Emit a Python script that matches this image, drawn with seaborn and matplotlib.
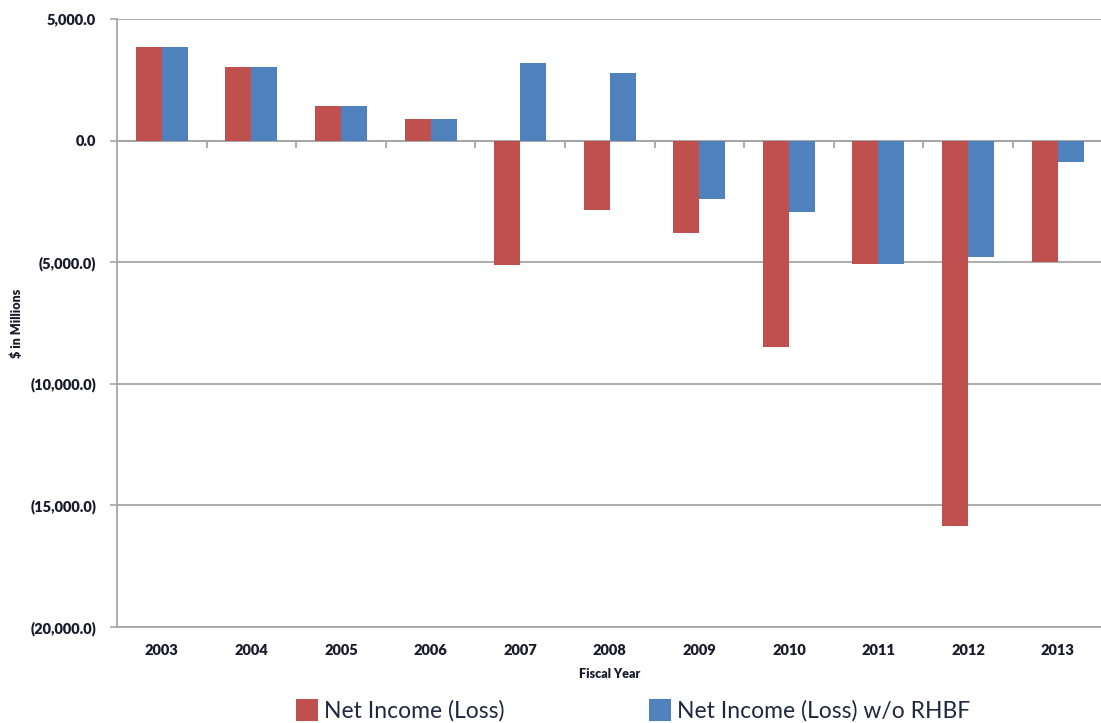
import matplotlib
matplotlib.use("Agg")
import matplotlib.pyplot as plt
import matplotlib.ticker as mticker
from matplotlib.patches import Patch
import seaborn as sns
import pandas as pd

years = ["2003", "2004", "2005", "2006", "2007", "2008", "2009", "2010", "2011", "2012", "2013"]
net_income = [3860, 3040, 1430, 900, -5100, -2840, -3800, -8500, -5070, -15860, -5000]
net_income_wo_rhbf = [3860, 3040, 1430, 900, 3200, 2780, -2420, -2950, -5070, -4770, -890]
series_names = ["Net Income (Loss)", "Net Income (Loss) w/o RHBF"]
colors = ["#C0504D", "#4F81BD"]

df = pd.DataFrame({
    "year": years * 2,
    "value": net_income + net_income_wo_rhbf,
    "series": [series_names[0]] * len(years) + [series_names[1]] * len(years),
})

sns.set_theme(style="white")
plt.rcParams["font.family"] = ["Lato", "DejaVu Sans"]

fig = plt.figure(figsize=(11.01, 7.23), dpi=100)
pos = [0.1063, 0.1328, 0.895, 0.8409]
ax = fig.add_axes(pos)

sns.barplot(data=df, x="year", y="value", hue="series", palette=colors,
            width=0.58, saturation=1, ax=ax, legend=False, edgecolor="none")

ymin, ymax = -20000, 5000
ax.set_ylim(ymin, ymax)
ax.set_xlim(-0.5, len(years) - 0.5)
ax.set_yticks(range(ymin, ymax + 1, 5000))

def fmt(v, pos):
    if v < 0:
        return "({:,.1f})".format(-v)
    return "{:,.1f}".format(v)

ax.yaxis.set_major_formatter(mticker.FuncFormatter(fmt))
ax.grid(axis="y", color="#A6A6A6", linewidth=1.3)
ax.set_axisbelow(True)
ax.axhline(0, color="#A6A6A6", linewidth=1.3, zorder=0.5)

for s in ["top", "right"]:
    ax.spines[s].set_visible(False)
ax.spines["left"].set_color("#A6A6A6")
ax.spines["left"].set_linewidth(1.3)
ax.spines["bottom"].set_color("#A6A6A6")
ax.spines["bottom"].set_linewidth(1.3)

ax.tick_params(axis="y", which="major", left=True, direction="out", length=5, width=1.2,
               color="#A6A6A6", labelsize=10.5, labelcolor="#1a1a2a", pad=10)
ax.tick_params(axis="x", which="major", length=0, labelsize=10.5,
               labelcolor="#1a1a2a", pad=12)
for lbl in ax.get_yticklabels() + ax.get_xticklabels():
    lbl.set_fontweight("heavy")

# small tick marks on the zero line at category boundaries (separate overlay axes)
zero_frac = (0 - ymin) / (ymax - ymin)
tax = fig.add_axes([pos[0], pos[1] + zero_frac * pos[3], pos[2], 0.0001])
tax.set_xlim(ax.get_xlim())
tax.set_xticks([i + 0.5 for i in range(len(years) - 1)])
tax.set_xticklabels([])
tax.set_yticks([])
tax.patch.set_visible(False)
for s in tax.spines.values():
    s.set_visible(False)
tax.tick_params(axis="x", which="major", bottom=True, top=False, direction="out",
                length=5, width=1.3, color="#A6A6A6", labelbottom=False)

ax.set_xlabel("Fiscal Year", fontsize=9, fontweight="heavy", color="#1a1a2a", labelpad=8)
ax.set_ylabel("$ in Millions", fontsize=9, fontweight="heavy", color="#1a1a2a")
ax.yaxis.set_label_coords(-0.095, 0.5)

handles = [Patch(facecolor=c, edgecolor="none", label=n) for c, n in zip(colors, series_names)]
fig.legend(handles=handles, loc="center", bbox_to_anchor=(0.575, 0.018), ncol=2,
           frameon=False, fontsize=16.5, handlelength=0.96, handleheight=1.1,
           handletextpad=0.25, columnspacing=6.3, labelcolor="#1F2840")

fig.savefig("out.png", dpi=100)
